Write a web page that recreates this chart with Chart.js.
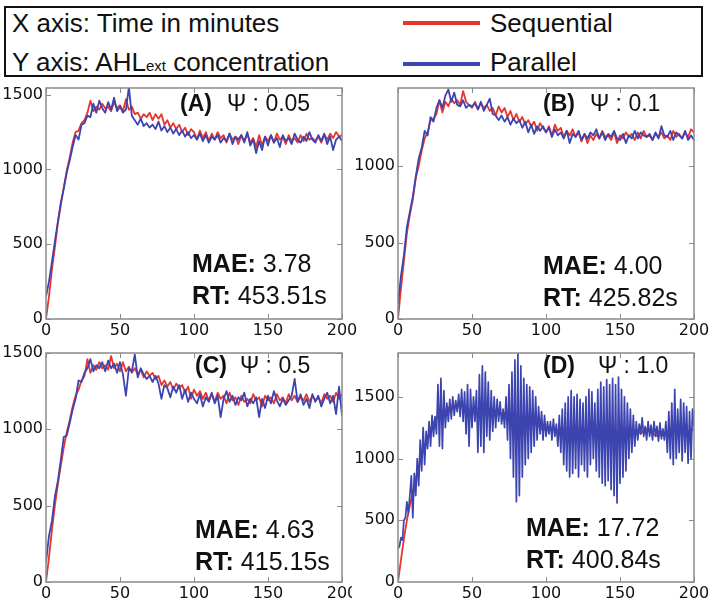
<!DOCTYPE html>
<html>
<head>
<meta charset="utf-8">
<script src="https://cdn.jsdelivr.net/npm/chart.js@4.4.0/dist/chart.umd.min.js"></script>
<style>
body { margin: 0; width: 710px; height: 602px; background: #fff; position: relative; overflow: hidden; font-family: "Liberation Sans", Arial, sans-serif; color: #111; }
#head { position: absolute; left: 4px; top: 6px; width: 695px; height: 67px; border: 2px solid #111; }
.txt { position: absolute; font-size: 26px; line-height: 26px; white-space: nowrap; }
.sub { font-size: 15px; }
.swatch { position: absolute; width: 77px; height: 4px; }
canvas { position: absolute; }
</style>
</head>
<body>
<div id="head"></div>
<div class="txt" style="left:12px;top:10px">X axis: Time in minutes</div>
<div class="txt" style="left:12px;top:49px">Y axis: AHL<span class="sub">ext</span> concentration</div>
<div class="swatch" id="swSeq" style="left:403px;top:21px"></div>
<div class="txt" id="lbSeq" style="left:490px;top:10px"></div>
<div class="swatch" id="swPar" style="left:403px;top:62px"></div>
<div class="txt" id="lbPar" style="left:490px;top:49px"></div>

<canvas id="pA" width="358" height="262" style="left:0;top:80px"></canvas>
<canvas id="pB" width="358" height="262" style="left:352px;top:80px"></canvas>
<canvas id="pC" width="352" height="260" style="left:0;top:342px"></canvas>
<canvas id="pD" width="358" height="260" style="left:352px;top:342px"></canvas>

<script>
const seriesNames = ["Sequential", "Parallel"];
const seriesColors = ["#e8352b", "#3c44b0"];

const xTicks = [0, 50, 100, 150, 200];

// sample times (minutes)
const minutes2 = [0,2,4,6,8,10,12,14,16,18,20,22,24,26,28,30,32,34,36,38,40,42,44,46,48,50,52,54,56,58,60,62,64,66,68,70,72,74,76,78,80,82,84,86,88,90,92,94,96,98,100,102,104,106,108,110,112,114,116,118,120,122,124,126,128,130,132,134,136,138,140,142,144,146,148,150,152,154,156,158,160,162,164,166,168,170,172,174,176,178,180,182,184,186,188,190,192,194,196,198,200];
const minutes1 = [0,1,2,3,4,5,6,7,8,9,10,11,12,13,14,15,16,17,18,19,20,21,22,23,24,25,26,27,28,29,30,31,32,33,34,35,36,37,38,39,40,41,42,43,44,45,46,47,48,49,50,51,52,53,54,55,56,57,58,59,60,61,62,63,64,65,66,67,68,69,70,71,72,73,74,75,76,77,78,79,80,81,82,83,84,85,86,87,88,89,90,91,92,93,94,95,96,97,98,99,100,101,102,103,104,105,106,107,108,109,110,111,112,113,114,115,116,117,118,119,120,121,122,123,124,125,126,127,128,129,130,131,132,133,134,135,136,137,138,139,140,141,142,143,144,145,146,147,148,149,150,151,152,153,154,155,156,157,158,159,160,161,162,163,164,165,166,167,168,169,170,171,172,173,174,175,176,177,178,179,180,181,182,183,184,185,186,187,188,189,190,191,192,193,194,195,196,197,198,199,200];

// (A) psi 0.05
const seqA = [0,150,330,480,640,760,880,990,1080,1180,
  1250,1260,1310,1330,1380,1460,1390,1420,1400,1440,
  1410,1420,1390,1450,1410,1430,1390,1470,1400,1420,
  1370,1380,1340,1370,1350,1380,1330,1370,1340,1370,
  1300,1330,1280,1310,1270,1300,1250,1280,1230,1270,
  1250,1200,1260,1210,1250,1190,1240,1200,1250,1210,
  1230,1180,1240,1200,1220,1170,1230,1190,1240,1180,
  1210,1150,1230,1160,1220,1190,1230,1180,1240,1200,
  1220,1170,1230,1190,1210,1180,1230,1190,1240,1200,
  1210,1190,1220,1180,1230,1200,1240,1210,1250,1220,
  1230];
const parA = [150,250,380,520,650,780,870,980,1060,1150,
  1230,1200,1300,1310,1360,1350,1440,1380,1460,1410,
  1380,1450,1400,1480,1390,1420,1380,1400,1550,1360,
  1330,1300,1340,1290,1310,1280,1300,1270,1320,1260,
  1290,1250,1280,1240,1270,1230,1260,1220,1250,1210,
  1230,1200,1240,1190,1230,1180,1220,1200,1230,1180,
  1210,1190,1240,1170,1220,1200,1230,1180,1250,1160,
  1200,1110,1190,1130,1220,1160,1230,1180,1210,1150,
  1230,1190,1210,1170,1240,1200,1180,1220,1190,1250,
  1200,1180,1230,1190,1240,1170,1220,1130,1200,1220,
  1190];

// (B) psi 0.1
const seqB = [0,200,380,560,680,780,920,1000,1100,1180,
  1220,1300,1310,1340,1430,1350,1420,1390,1440,1410,
  1430,1400,1490,1420,1400,1380,1420,1370,1410,1380,
  1400,1360,1380,1330,1390,1350,1380,1320,1360,1300,
  1340,1290,1320,1270,1300,1260,1290,1230,1280,1250,
  1220,1260,1200,1270,1230,1250,1190,1230,1200,1240,
  1190,1220,1160,1210,1150,1200,1170,1210,1180,1230,
  1190,1200,1170,1220,1150,1200,1180,1220,1190,1210,
  1170,1220,1180,1230,1190,1200,1170,1210,1190,1220,
  1180,1200,1170,1230,1190,1210,1180,1220,1190,1240,
  1220];
const parB = [100,280,420,600,700,800,930,1050,1120,1230,
  1200,1320,1290,1380,1430,1380,1460,1500,1420,1480,
  1400,1390,1430,1380,1400,1390,1410,1370,1420,1360,
  1400,1440,1340,1330,1300,1330,1290,1320,1270,1310,
  1280,1300,1250,1290,1220,1270,1210,1260,1230,1260,
  1220,1250,1190,1240,1200,1220,1180,1230,1150,1210,
  1190,1230,1170,1210,1180,1220,1200,1240,1180,1220,
  1170,1210,1190,1230,1180,1170,1210,1150,1200,1180,
  1230,1180,1220,1200,1190,1210,1170,1220,1180,1260,
  1200,1190,1230,1170,1220,1200,1180,1230,1170,1200,
  1170];

// (C) psi 0.5
const seqC = [0,160,340,500,640,760,880,980,1060,1150,
  1220,1260,1320,1350,1460,1370,1420,1390,1440,1400,
  1420,1390,1480,1400,1430,1380,1440,1380,1410,1370,
  1400,1360,1390,1340,1380,1350,1370,1330,1350,1290,
  1320,1280,1310,1260,1300,1270,1290,1240,1280,1200,
  1260,1220,1250,1200,1240,1190,1230,1180,1240,1200,
  1220,1170,1240,1190,1210,1160,1220,1180,1200,1170,
  1230,1190,1210,1150,1220,1190,1210,1170,1230,1190,
  1210,1170,1230,1190,1220,1180,1210,1190,1230,1180,
  1220,1190,1210,1170,1230,1200,1220,1180,1240,1200,
  1230];
const parC = [130,300,400,560,660,800,950,960,1040,1130,
  1200,1320,1310,1370,1400,1460,1380,1420,1400,1440,
  1380,1450,1400,1430,1370,1440,1360,1220,1400,1380,
  1490,1340,1400,1360,1330,1350,1310,1350,1300,1200,
  1290,1270,1210,1280,1240,1290,1200,1260,1180,1240,
  1200,1170,1230,1150,1210,1180,1240,1170,1220,1080,
  1200,1250,1180,1220,1160,1210,1190,1240,1150,1200,
  1170,1210,1080,1200,1140,1220,1170,1250,1190,1150,
  1200,1160,1190,1220,1330,1180,1230,1160,1200,1140,
  1230,1180,1220,1150,1200,1240,1170,1220,1100,1280,
  1090];

// (D) psi 1.0
const seqD = [0,180,350,500,620,720,830,930,1020,1100,
  1170,1240,1290,1330,1350,1380,1390,1410,1420,1430,
  1420,1430,1440,1410,1390,1370,1380,1400,1420,1410,
  1400,1390,1380,1380,1370,1360,1370,1350,1340,1320,
  1330,1300,1310,1290,1300,1280,1290,1270,1250,1230,
  1240,1220,1250,1240,1230,1250,1240,1230,1240,1220,
  1230,1240,1210,1230,1220,1240,1210,1230,1220,1200,
  1220,1230,1210,1220,1200,1230,1210,1220,1200,1210,
  1190,1220,1200,1230,1240,1220,1200,1190,1180,1200,
  1190,1220,1200,1230,1210,1240,1220,1230,1210,1240,
  1230];
const parD = [270,290,360,340,500,520,650,560,700,860,520,880,700,1000,780,1150,900,1250,950,1220,
  1080,1300,1100,1350,1180,1340,1200,1600,1100,1650,1080,1550,1250,1450,1300,1480,1320,1500,1350,1470,
  1380,1520,1340,1560,1300,1540,1200,1600,1100,1560,1250,1500,1300,1550,1050,1680,1100,1750,1050,1700,
  1180,1620,1150,1550,1220,1500,1250,1480,1300,1460,1280,1400,1250,1500,1150,1600,1000,1700,850,1800,
  650,1850,700,1750,850,1650,950,1600,1000,1580,1050,1550,1100,1500,1150,1420,1200,1380,1150,1350,
  1180,1300,1200,1300,1150,1320,1180,1280,1100,1350,1050,1400,950,1450,900,1500,850,1550,880,1500,
  920,1520,850,1480,950,1450,900,1500,850,1560,950,1540,1000,1450,900,1560,850,1620,800,1580,
  780,1640,820,1600,750,1650,700,1600,640,1660,800,1560,850,1500,900,1450,1000,1400,1050,1350,
  1100,1300,1150,1280,1200,1330,1180,1260,1150,1300,1180,1270,1150,1300,1180,1260,1140,1290,1160,1240,
  1150,1300,1050,1380,1000,1450,950,1560,1000,1400,1050,1480,980,1450,1050,1420,960,1380,1000,1400,
  1250];

const panelTags = ["(A)", "(B)", "(C)", "(D)"];
const psiValues = ["0.05", "0.1", "0.5", "1.0"];
const maeValues = ["3.78", "4.00", "4.63", "17.72"];
const rtValues = ["453.51s", "425.82s", "415.15s", "400.84s"];
const yMaxes = [1545, 1510, 1500, 1855];
const yTickSets = [[0, 500, 1000, 1500], [0, 500, 1000], [0, 500, 1000, 1500], [0, 500, 1000, 1500]];

document.getElementById('swSeq').style.background = seriesColors[0];
document.getElementById('swPar').style.background = seriesColors[1];
document.getElementById('lbSeq').textContent = seriesNames[0];
document.getElementById('lbPar').textContent = seriesNames[1];

function pairs(xs, ys) {
  return ys.map((v, i) => ({ x: xs[i], y: v }));
}

// frame, inward ticks and the annotations
const panelDeco = {
  id: 'panelDeco',
  afterDraw(chart, args, o) {
    const ctx = chart.ctx;
    const a = chart.chartArea;
    const sx = chart.scales.x, sy = chart.scales.y;
    ctx.save();
    ctx.strokeStyle = '#8a8a8a';
    ctx.lineWidth = 1;
    ctx.beginPath();
    sx.ticks.forEach(t => {
      const p = Math.round(sx.getPixelForValue(t.value)) + 0.5;
      ctx.moveTo(p, a.bottom); ctx.lineTo(p, a.bottom - 5);
      ctx.moveTo(p, a.top); ctx.lineTo(p, a.top + 5);
    });
    sy.ticks.forEach(t => {
      const p = Math.round(sy.getPixelForValue(t.value)) + 0.5;
      ctx.moveTo(a.left, p); ctx.lineTo(a.left + 5, p);
      ctx.moveTo(a.right, p); ctx.lineTo(a.right - 5, p);
    });
    ctx.stroke();
    ctx.lineWidth = 1.5;
    ctx.strokeRect(a.left, a.top, a.right - a.left, a.bottom - a.top);

    ctx.fillStyle = '#111';
    ctx.textBaseline = 'alphabetic';
    ctx.textAlign = 'left';
    ctx.font = 'bold 23px "Liberation Sans"';
    ctx.fillText(o.tag, a.left + o.tagX, a.top + o.tagY);
    ctx.font = '23px "Liberation Sans"';
    ctx.fillText('\u03A8 : ' + o.psi, a.left + o.tagX + o.psiGap, a.top + o.tagY);

    ctx.font = 'bold 25px "Liberation Sans"';
    ctx.fillText('MAE:', a.left + o.statX, a.top + o.maeY);
    let w = ctx.measureText('MAE:').width;
    ctx.font = '25px "Liberation Sans"';
    ctx.fillText(' ' + o.mae, a.left + o.statX + w, a.top + o.maeY);
    ctx.font = 'bold 25px "Liberation Sans"';
    ctx.fillText('RT:', a.left + o.statX, a.top + o.maeY + 32);
    w = ctx.measureText('RT:').width;
    ctx.font = '25px "Liberation Sans"';
    ctx.fillText(' ' + o.rt, a.left + o.statX + w, a.top + o.maeY + 32);
    ctx.restore();
  }
};

function makePanel(id, k, seq, seqX, par, parX, lay) {
  new Chart(document.getElementById(id), {
    type: 'line',
    data: {
      datasets: [
        // parallel drawn on top of sequential
        { label: seriesNames[0], data: pairs(seqX, seq), borderColor: seriesColors[0], borderWidth: 1.8, order: 2 },
        { label: seriesNames[1], data: pairs(parX, par), borderColor: seriesColors[1], borderWidth: lay.parW, order: 1 }
      ]
    },
    options: {
      responsive: false,
      animation: false,
      events: [],
      parsing: false,
      elements: { point: { radius: 0 }, line: { tension: 0, borderJoinStyle: 'round' } },
      layout: { padding: { left: 0, right: lay.padR, top: lay.padT, bottom: 0 } },
      plugins: {
        legend: { display: false },
        tooltip: { enabled: false },
        panelDeco: {
          tag: panelTags[k], psi: psiValues[k], mae: maeValues[k], rt: rtValues[k],
          tagX: lay.tagX, tagY: lay.tagY, psiGap: lay.psiGap, statX: lay.statX, maeY: lay.maeY
        }
      },
      scales: {
        x: {
          type: 'linear', min: 0, max: 200,
          afterBuildTicks: s => { s.ticks = xTicks.map(v => ({ value: v })); },
          afterFit: s => { s.height = lay.xH; s.paddingLeft = 0; s.paddingRight = 0; },
          grid: { display: false, drawTicks: false },
          border: { display: false },
          ticks: { font: { family: 'DejaVu Sans', size: 16 }, color: '#111', padding: 2, maxRotation: 0, autoSkip: false, callback: v => String(v) }
        },
        y: {
          min: 0, max: yMaxes[k],
          afterBuildTicks: s => { s.ticks = yTickSets[k].map(v => ({ value: v })); },
          afterFit: s => { s.width = 46; s.paddingTop = 0; s.paddingBottom = 0; },
          grid: { display: false, drawTicks: false },
          border: { display: false },
          ticks: { font: { family: 'DejaVu Sans', size: 16 }, color: '#111', padding: 3, autoSkip: false, callback: v => String(v) }
        }
      }
    },
    plugins: [panelDeco]
  });
}

makePanel('pA', 0, seqA, minutes2, parA, minutes2, { padR: 16, padT: 8, xH: 23, parW: 1.8, tagX: 134, tagY: 23, psiGap: 47, statX: 146, maeY: 184 });
makePanel('pB', 1, seqB, minutes2, parB, minutes2, { padR: 16, padT: 8, xH: 23, parW: 1.8, tagX: 145, tagY: 23, psiGap: 47, statX: 145, maeY: 186 });
makePanel('pC', 2, seqC, minutes2, parC, minutes2, { padR: 10, padT: 11, xH: 20, parW: 1.8, tagX: 149, tagY: 20, psiGap: 45, statX: 149, maeY: 185 });
makePanel('pD', 3, seqD, minutes2, parD, minutes1, { padR: 16, padT: 11, xH: 20, parW: 1.7, tagX: 145, tagY: 20, psiGap: 55, statX: 128, maeY: 183 });
</script>
</body>
</html>
